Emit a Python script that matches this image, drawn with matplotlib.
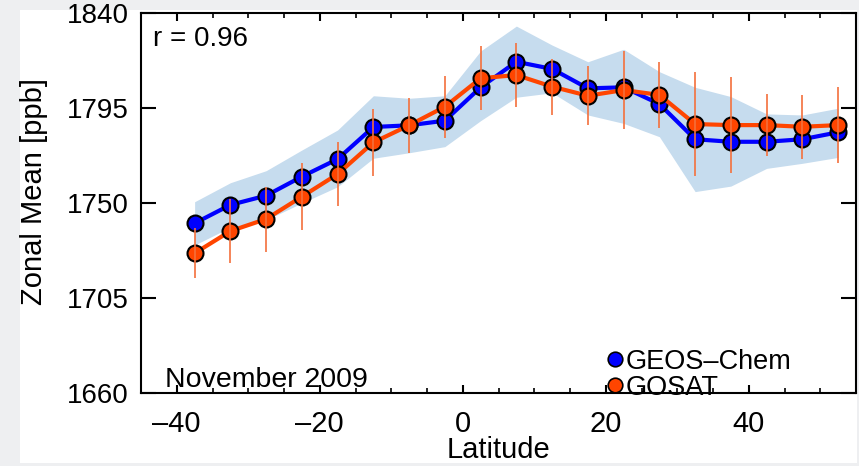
import matplotlib
matplotlib.use('Agg')
import matplotlib.pyplot as plt
import matplotlib.patches as mpatches
from matplotlib.lines import Line2D

plt.rcParams['font.family'] = ['Liberation Sans', 'DejaVu Sans']

# zonal bands (latitude centres)
latitude = [-37.5, -32.5, -27.5, -22.5, -17.5, -12.5, -7.5, -2.5, 2.5, 7.5,
            12.5, 17.5, 22.5, 27.5, 32.5, 37.5, 42.5, 47.5, 52.5]
geos_chem = [1740.4, 1749.1, 1753.5, 1762.5, 1770.8, 1786.0, 1786.8, 1789.0, 1804.8, 1816.9,
             1813.5, 1804.3, 1804.8, 1796.9, 1780.2, 1779.0, 1779.0, 1780.2, 1783.5]
gosat = [1726.2, 1736.7, 1742.4, 1753.0, 1763.7, 1778.7, 1786.8, 1795.6, 1809.1, 1810.6,
         1805.1, 1800.8, 1803.5, 1801.2, 1787.4, 1786.9, 1786.9, 1786.1, 1786.9]
gosat_err = [11.8, 15.3, 15.4, 16.0, 15.2, 15.7, 13.0, 14.6, 15.2, 15.0,
             13.3, 13.9, 18.5, 15.5, 24.5, 22.7, 14.8, 15.2, 18.1]
band_upper = [1750.6, 1759.6, 1765.3, 1775.1, 1784.6, 1800.8, 1799.6, 1800.8, 1822.0, 1833.8,
              1824.8, 1816.9, 1822.8, 1812.2, 1804.8, 1800.4, 1792.2, 1791.7, 1794.9]
band_lower = [1730.1, 1738.5, 1742.0, 1750.0, 1757.7, 1771.2, 1773.8, 1776.7, 1789.0, 1800.1,
              1802.2, 1791.7, 1787.7, 1781.4, 1755.4, 1758.0, 1766.4, 1768.8, 1771.6]

x_ticks = [-40, -20, 0, 20, 40]
y_ticks = [1660, 1705, 1750, 1795, 1840]

fig = plt.figure(figsize=(8.59, 4.66), dpi=100, facecolor='#eeeff1')
# white panel behind the plot
panel = mpatches.Rectangle((20 / 859, 3 / 466), 837 / 859, 453 / 466,
                           transform=fig.transFigure, facecolor='white',
                           edgecolor='none', zorder=-10)
fig.add_artist(panel)
ax = fig.add_axes([141 / 859, 73 / 466, 715 / 859, 380 / 466])
ax.set_facecolor('white')

ax.fill_between(latitude, band_lower, band_upper, color='#c6dcee', lw=0, zorder=1)
ax.plot(latitude, geos_chem, color='#0000ff', lw=3, marker='o', ms=11.5,
        mfc='#0000ff', mec='black', mew=1.5, zorder=3)
ax.plot(latitude, gosat, color='#ff4500', lw=3, marker='o', ms=11.5,
        mfc='#ff4500', mec='black', mew=1.5, zorder=4)
ax.errorbar(latitude, gosat, yerr=gosat_err, fmt='none', ecolor='#f4703c',
            elinewidth=1.2, capsize=0, zorder=5)

ax.set_xlim(-45, 55)
ax.set_ylim(1660, 1840)
ax.set_xticks(x_ticks)
ax.set_xticks(range(-45, 56, 5), minor=True)
ax.set_yticks(y_ticks)
ax.set_xticklabels(['\u201340', '\u201320', '0', '20', '40'])

ax.tick_params(axis='x', which='major', direction='in', top=True, length=6,
               width=1.5, labelsize=21, pad=12)
ax.tick_params(axis='x', which='minor', direction='in', top=True, length=3.5, width=1.2)
ax.tick_params(axis='y', which='major', direction='in', right=True, length=11,
               width=1.5, labelsize=20, pad=9)
for s in ax.spines.values():
    s.set_linewidth(1.5)

ax.set_xlabel('Latitude', fontsize=21)
ax.xaxis.set_label_coords(0.5, -0.113)
ax.set_ylabel('Zonal Mean [ppb]', fontsize=21)
ax.yaxis.set_label_coords(-0.13, 0.53)

ax.text(0.017, 0.965, 'r = 0.96', transform=ax.transAxes, fontsize=20,
        ha='left', va='top')
ax.text(0.034, 0.0, 'November 2009', transform=ax.transAxes, fontsize=20.5,
        ha='left', va='bottom')

handles = [Line2D([], [], ls='none', marker='o', ms=10.5, mfc='#0000ff', mec='black', mew=1.2),
           Line2D([], [], ls='none', marker='o', ms=10.5, mfc='#ff4500', mec='black', mew=1.2)]
ax.legend(handles, ['GEOS\u2013Chem', 'GOSAT'], loc='lower left',
          bbox_to_anchor=(0.653, -0.02), frameon=False, fontsize=19.5,
          handlelength=0.5, handletextpad=0.15, labelspacing=0.0, borderpad=0,
          borderaxespad=0)

fig.savefig('out.png', dpi=100, facecolor=fig.get_facecolor())
plt.close(fig)
